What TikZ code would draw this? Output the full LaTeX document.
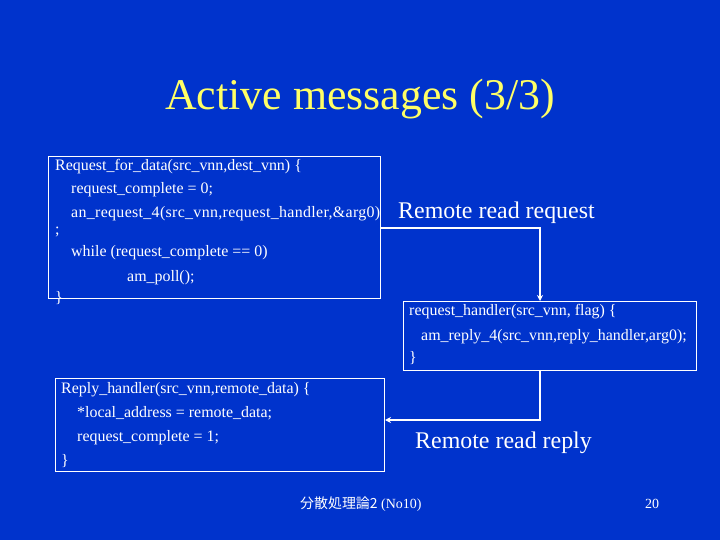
\documentclass[tikz,border=0pt]{standalone}
\usepackage{fontspec}
\usetikzlibrary{arrows.meta}
\setmainfont{Liberation Serif}
\newfontfamily\cjkfont{Noto Sans CJK JP}
\newfontfamily\widecode[LetterSpace=2]{Liberation Serif}
\definecolor{slideblue}{RGB}{0,51,204}
\definecolor{titleyellow}{RGB}{255,255,102}
\tikzset{
  codeline/.style = {anchor=base west, inner sep=0pt, text=white, font=\fontsize{16}{18}\selectfont},
  codebox/.style = {draw=white, line width=1bp, anchor=north west, inner sep=0pt},
  caption/.style = {anchor=base west, inner sep=0pt, text=white, font=\fontsize{24}{28}\selectfont},
  flow/.style = {draw=white, line width=1.5bp, -{Stealth[length=6bp,width=6bp]}}
}
\begin{document}
\begin{tikzpicture}[x=1bp, y=-1bp]

  \fill[slideblue] (0,0) rectangle (720,540);
  \useasboundingbox (0,0) rectangle (720,540);

  \node[anchor=base, inner sep=0pt, text=titleyellow, font=\fontsize{44}{50}\selectfont] (title) at (360,110) {Active messages (3/3)};

  % request side
  \node[codebox, minimum width=332bp, minimum height=142bp] (req) at (48,156) {};
  \node[codeline] (r1) at (55,171) {Request\_for\_data(src\_vnn,dest\_vnn) \{};
  \node[codeline] (r2) at (71,194) {request\_complete = 0;};
  \node[codeline, font=\widecode\fontsize{16}{18}\selectfont] (r3) at (71,218) {an\_request\_4(src\_vnn,request\_handler,\&arg0)};
  \node[codeline] (r4) at (55,235) {;};
  \node[codeline] (r5) at (71,257) {while (request\_complete == 0)};
  \node[codeline] (r6) at (127,282) {am\_poll();};
  \node[codeline] (r7) at (55,302) {\}};

  \node[caption] (reqcap) at (398,219) {Remote read request};

  % handler
  \node[codebox, minimum width=293bp, minimum height=69bp] (hdl) at (403,301) {};
  \node[codeline] (h1) at (409,315) {request\_handler(src\_vnn, flag) \{};
  \node[codeline] (h2) at (421,340) {am\_reply\_4(src\_vnn,reply\_handler,arg0);};
  \node[codeline] (h3) at (409,362) {\}};

  % reply side
  \node[codebox, minimum width=329bp, minimum height=93bp] (rep) at (55,378) {};
  \node[codeline] (p1) at (61,393) {Reply\_handler(src\_vnn,remote\_data) \{};
  \node[codeline] (p2) at (77,417) {*local\_address = remote\_data;};
  \node[codeline] (p3) at (77,441) {request\_complete = 1;};
  \node[codeline] (p4) at (61,465) {\}};

  \node[caption] (repcap) at (415,448) {Remote read reply};

  \coordinate (turn1) at (540,228);
  \coordinate (turn2) at (540,420);
  \draw[flow] (req.east |- turn1) -- (turn1) -- (turn1 |- hdl.north);
  \draw[flow] (turn2 |- hdl.south) -- (turn2) -- (rep.east |- turn2);

  % footer
  \node[anchor=base west, inner sep=0pt, text=white, font=\fontsize{14}{16}\selectfont] (foot) at (300,508) {{\cjkfont 分散処理論2} (No10)};
  \node[anchor=base west, inner sep=0pt, text=white, font=\fontsize{14}{16}\selectfont] (page) at (645,508) {20};

\end{tikzpicture}
\end{document}
